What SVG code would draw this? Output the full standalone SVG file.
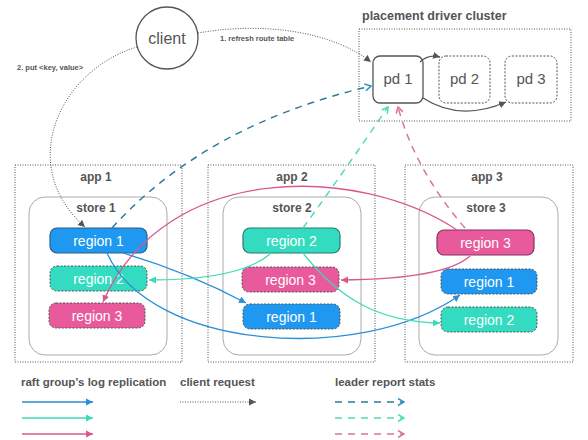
<svg xmlns="http://www.w3.org/2000/svg" width="588" height="440" viewBox="0 0 588 440">
<defs>
<style>
.t{font-family:"Liberation Sans",Arial,sans-serif;fill:#555;}
.b{font-weight:bold;}
.frame{fill:none;stroke:#555;stroke-width:1;stroke-dasharray:1 1.5;}
.store{fill:#fff;stroke:#aaa;stroke-width:1;}
.rl{font-family:"Liberation Sans",Arial,sans-serif;font-size:14px;fill:#fff;text-anchor:middle;}
.blue{fill:#1e98f0;}
.teal{fill:#33dcc0;}
.pink{fill:#e95a9c;}
.solidB{stroke:#2a5f86;stroke-width:1.2;}
.solidT{stroke:#2a7a6c;stroke-width:1.2;}
.solidP{stroke:#8a3358;stroke-width:1.2;}
.dsh{stroke:#555;stroke-width:1;stroke-dasharray:2 1.5;}
.pd{fill:#fff;stroke:#555;}
.lb{fill:none;stroke:#2a8fd6;stroke-width:1.3;}
.lt{fill:none;stroke:#3fdab8;stroke-width:1.3;}
.lp{fill:none;stroke:#d9588f;stroke-width:1.3;}
.dot{fill:none;stroke:#555;stroke-width:1;stroke-dasharray:1 1.5;}
.gray{fill:none;stroke:#555;stroke-width:1.3;}
.db{fill:none;stroke:#2b7c9c;stroke-width:1.5;stroke-dasharray:7 6;}
.dt{fill:none;stroke:#4fdcb8;stroke-width:1.5;stroke-dasharray:7 6;}
.dp{fill:none;stroke:#d97592;stroke-width:1.5;stroke-dasharray:7 6;}
</style>
<marker id="aB" markerWidth="8" markerHeight="8" refX="7" refY="4" orient="auto" markerUnits="userSpaceOnUse"><path d="M0,0.5 L7,4 L0,7.5 Z" fill="#2a8fd6"/></marker>
<marker id="aT" markerWidth="8" markerHeight="8" refX="7" refY="4" orient="auto" markerUnits="userSpaceOnUse"><path d="M0,0.5 L7,4 L0,7.5 Z" fill="#3fdab8"/></marker>
<marker id="aP" markerWidth="8" markerHeight="8" refX="7" refY="4" orient="auto" markerUnits="userSpaceOnUse"><path d="M0,0.5 L7,4 L0,7.5 Z" fill="#d9588f"/></marker>
<marker id="aG" markerWidth="8" markerHeight="8" refX="7" refY="4" orient="auto" markerUnits="userSpaceOnUse"><path d="M0,0.5 L7,4 L0,7.5 Z" fill="#555"/></marker>
<marker id="aDB" markerWidth="8" markerHeight="8" refX="7" refY="4" orient="auto" markerUnits="userSpaceOnUse"><path d="M1,0.5 L7,4 L1,7.5" fill="none" stroke="#2b8fd6" stroke-width="1.5"/></marker>
<marker id="aDT" markerWidth="8" markerHeight="8" refX="7" refY="4" orient="auto" markerUnits="userSpaceOnUse"><path d="M1,0.5 L7,4 L1,7.5" fill="none" stroke="#4fdcb8" stroke-width="1.5"/></marker>
<marker id="aDP" markerWidth="8" markerHeight="8" refX="7" refY="4" orient="auto" markerUnits="userSpaceOnUse"><path d="M1,0.5 L7,4 L1,7.5" fill="none" stroke="#d97592" stroke-width="1.5"/></marker>
</defs>
<rect width="588" height="440" fill="#fff"/>

<g id="client">
<circle cx="167" cy="38" r="31" fill="#fff" stroke="#555" stroke-width="1.3"/>
<text class="t" x="167" y="44" font-size="16" text-anchor="middle">client</text>
</g>

<g id="pd-cluster">
<text class="t b" x="362" y="20" font-size="12.5">placement driver cluster</text>
<rect class="frame" x="359" y="29" width="212" height="92"/>
</g>
<g id="pd1">
<rect class="pd" x="373" y="56" width="50" height="47" rx="7" stroke-width="1.3"/>
<text class="t" x="398" y="84" font-size="15" text-anchor="middle">pd 1</text>
</g>
<g id="pd2">
<rect class="pd" x="439" y="56" width="51" height="47" rx="7" stroke-dasharray="2 1.5"/>
<text class="t" x="464.5" y="84" font-size="15" text-anchor="middle">pd 2</text>
</g>
<g id="pd3">
<rect class="pd" x="505" y="56" width="52" height="47" rx="7" stroke-dasharray="2 1.5"/>
<text class="t" x="531" y="84" font-size="15" text-anchor="middle">pd 3</text>
</g>

<g id="app1">
<rect class="frame" x="15" y="165" width="167" height="197"/>
<text class="t b" x="96" y="181" font-size="12" text-anchor="middle">app 1</text>
<rect class="store" x="29" y="197" width="138" height="158" rx="16"/>
<text class="t b" x="96" y="212" font-size="12" text-anchor="middle">store 1</text>
</g>
<g id="app2">
<rect class="frame" x="208" y="165" width="167" height="197"/>
<text class="t b" x="292" y="181" font-size="12" text-anchor="middle">app 2</text>
<rect class="store" x="223" y="197" width="138" height="158" rx="16"/>
<text class="t b" x="292" y="212" font-size="12" text-anchor="middle">store 2</text>
</g>
<g id="app3">
<rect class="frame" x="405" y="165" width="168" height="197"/>
<text class="t b" x="487" y="181" font-size="12" text-anchor="middle">app 3</text>
<rect class="store" x="419" y="197" width="139" height="158" rx="16"/>
<text class="t b" x="486" y="212" font-size="12" text-anchor="middle">store 3</text>
</g>

<g id="app1-region1"><rect class="blue solidB" x="50" y="228" width="97" height="25" rx="7"/><text class="rl" x="98.5" y="246">region 1</text></g>
<g id="app1-region2"><rect class="teal dsh" x="50" y="266" width="97" height="25" rx="7"/><text class="rl" x="98.5" y="284">region 2</text></g>
<g id="app1-region3"><rect class="pink dsh" x="49" y="303" width="96" height="25" rx="7"/><text class="rl" x="97" y="321">region 3</text></g>

<g id="app2-region2"><rect class="teal solidT" x="243" y="228" width="97" height="25" rx="7"/><text class="rl" x="291.5" y="246">region 2</text></g>
<g id="app2-region3"><rect class="pink dsh" x="242" y="267" width="97" height="25" rx="7"/><text class="rl" x="290.5" y="285">region 3</text></g>
<g id="app2-region1"><rect class="blue dsh" x="243" y="304" width="97" height="25" rx="7"/><text class="rl" x="291.5" y="322">region 1</text></g>

<g id="app3-region3"><rect class="pink solidP" x="437" y="230" width="97" height="25" rx="7"/><text class="rl" x="485.5" y="248">region 3</text></g>
<g id="app3-region1"><rect class="blue dsh" x="441" y="269" width="96" height="25" rx="7"/><text class="rl" x="489" y="287">region 1</text></g>
<g id="app3-region2"><rect class="teal dsh" x="441" y="307" width="96" height="25" rx="7"/><text class="rl" x="489" y="325">region 2</text></g>

<g id="connectors">
<path class="dot" d="M198,33 C260,22 330,30 371,62" marker-end="url(#aG)"/>
<text class="t b" x="220" y="41" font-size="7.5">1. refresh route table</text>
<path class="dot" d="M137,47 C60,70 15,165 85,227" marker-end="url(#aG)"/>
<text class="t b" x="17" y="70" font-size="7.5">2. put &lt;key, value&gt;</text>
<path class="gray" d="M420,62 Q428,54 440,57" marker-end="url(#aG)"/>
<path class="gray" d="M423,98 Q460,122 506,102" marker-end="url(#aG)"/>

<path class="db" d="M112,228 Q205,125 371,86" marker-end="url(#aDB)"/>
<path class="dt" d="M303,228 Q345,170 388,107" marker-end="url(#aDT)"/>
<path class="dp" d="M465,228 Q415,170 398,107" marker-end="url(#aDP)"/>

<path class="lp" d="M457,230 C360,165 165,160 103,302" marker-end="url(#aP)"/>
<path class="lp" d="M470,256 Q445,279 341,280" marker-end="url(#aP)"/>
<path class="lb" d="M123,253 Q190,273 246,303" marker-end="url(#aB)"/>
<path class="lb" d="M107,253 C150,350 360,365 460,295" marker-end="url(#aB)"/>
<path class="lt" d="M270,254 Q240,280 149,280" marker-end="url(#aT)"/>
<path class="lt" d="M303,253 C340,300 380,322 440,323" marker-end="url(#aT)"/>
</g>

<g id="legend">
<text class="t b" x="21" y="386" font-size="11.5">raft group’s log replication</text>
<text class="t b" x="180" y="386" font-size="11.5">client request</text>
<text class="t b" x="335" y="386" font-size="11.5">leader report stats</text>
<path class="lb" d="M22,402 L93,402" marker-end="url(#aB)"/>
<path class="lt" d="M22,418 L93,418" marker-end="url(#aT)"/>
<path class="lp" d="M22,434 L93,434" marker-end="url(#aP)"/>
<path class="dot" d="M180,402 L256,402" marker-end="url(#aG)"/>
<path class="db" d="M335,402 L404,402" stroke="#3a9aa8" marker-end="url(#aDB)"/>
<path class="dt" d="M335,418 L404,418" marker-end="url(#aDT)"/>
<path class="dp" d="M335,434 L404,434" marker-end="url(#aDP)"/>
</g>
</svg>
